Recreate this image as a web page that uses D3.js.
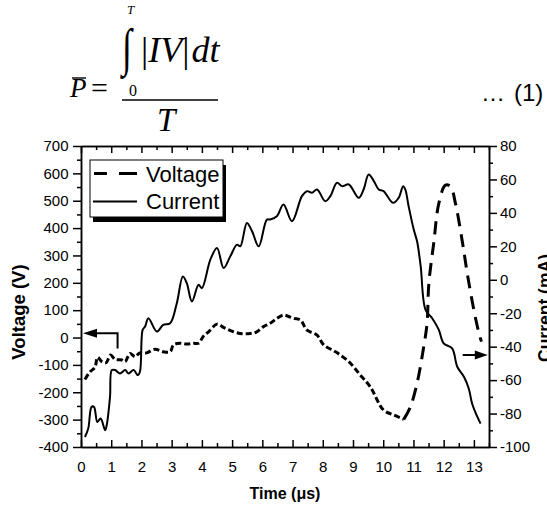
<!DOCTYPE html>
<html>
<head>
<meta charset="utf-8">
<script src="https://cdnjs.cloudflare.com/ajax/libs/d3/7.8.5/d3.min.js"></script>
<style>
body { margin: 0; background: #fff; }
svg { display: block; }
text { font-family: "Liberation Sans", Arial, sans-serif; fill: #000; }
</style>
</head>
<body>
<svg id="chart" width="547" height="505"></svg>
<script>
// tick values
var timeTicks = d3.range(0, 14, 1);
var voltTicks = d3.range(-400, 701, 100);
var currTicks = d3.range(-100, 81, 20);

// series names (legend)
var seriesNames = ['Voltage', 'Current'];

// voltage trace (us, V)
var voltageT = [0.13,0.30,0.46,0.55,0.69,0.83,0.98,1.13,1.35,1.46,1.62,1.79,1.95,2.17,2.45,2.72,2.95,3.06,3.28,3.50,3.72,3.89,4.05,4.22,4.50,4.75,5.05,5.35,5.60,5.80,6.04,6.26,6.48,6.70,6.85,7.05,7.26,7.48,7.81,8.03,8.42,8.86,9.24,9.57,10.01,10.35,10.68,10.90,11.12,11.34,11.45,11.51,11.67,11.84,12.06,12.23,12.39,12.61,12.78,13.00,13.17,13.25];
var voltageV = [-153,-125,-109,-72,-88,-92,-64,-80,-82,-88,-58,-70,-56,-56,-43,-52,-52,-27,-21,-24,-21,-21,5,21,49,35,21,14,15,20,40,52,70,82,78,70,64,27,9,-27,-52,-88,-137,-180,-265,-283,-299,-253,-167,-34,52,198,344,490,557,551,490,356,235,100,15,-15];

// current trace (us, mA)
var currentT = [0.13,0.24,0.35,0.43,0.54,0.65,0.80,0.85,0.96,1.02,1.13,1.29,1.46,1.57,1.74,1.88,1.95,2.04,2.12,2.23,2.51,2.72,2.95,3.17,3.37,3.50,3.67,3.89,4.00,4.28,4.50,4.72,4.94,5.16,5.27,5.49,5.66,5.88,6.15,6.26,6.48,6.70,6.98,7.31,7.48,7.64,7.81,8.08,8.25,8.47,8.64,8.86,9.19,9.35,9.52,9.69,9.85,10.01,10.33,10.51,10.66,10.73,10.84,11.01,11.12,11.24,11.40,11.62,11.84,12.00,12.28,12.45,12.67,12.83,12.94,13.09,13.22];
var currentI = [-94,-89,-76,-76,-85,-83,-90,-87,-70,-54,-54,-56,-54,-56,-54,-57,-55,-30,-28,-23,-31,-27,-26,-14,2,-2,-13,-3,-5,12,19,7,14,21,20,34,29,20,36,36,38,45,35,50,53,52,54,47,50,58,56,57,49,54,63,59,54,53,46,49,56,54,44,30,23,8,-18,-23,-30,-38,-41,-52,-58,-65,-74,-81,-86];

// arrows telling which axis each trace belongs to
var voltArrow = {t0: 1.21, v0: -40, v1: 16, t1: 0};
var currArrow = {t0: 12.63, t1: 13.46, c: -45};

var svg = d3.select('#chart');

var x = d3.scaleLinear().domain([0, 13.5]).range([81, 489]);
var yV = d3.scaleLinear().domain([-400, 700]).range([447, 146]);
var yI = d3.scaleLinear().domain([-100, 80]).range([447, 146]);

var noLabel = function () { return ''; };
var plain = function (d) { return String(d); };

function styleAxis(g) {
    g.selectAll('path, line').attr('stroke', '#000').attr('stroke-width', 1.5);
    g.selectAll('text').attr('font-size', 15).attr('fill', '#000')
        .attr('font-family', '"Liberation Sans", Arial, sans-serif');
}

// ----- equation above the chart -----
var serif = '"Liberation Serif", "Times New Roman", serif';
var eq = svg.append('g');
eq.append('text').attr('x', 70).attr('y', 97).attr('font-size', 27).attr('font-style', 'italic')
    .style('font-family', serif).text('P');
eq.append('line').attr('x1', 72).attr('x2', 86).attr('y1', 78).attr('y2', 78)
    .attr('stroke', '#000').attr('stroke-width', 1.4);
eq.append('text').attr('x', 91).attr('y', 98).attr('font-size', 30)
    .style('font-family', serif).text('=');
eq.append('text').attr('transform', 'translate(122,65) scale(1,1.45)').attr('font-size', 36)
    .style('font-family', serif).text('\u222B');
eq.append('text').attr('x', 127).attr('y', 14).attr('font-size', 13).attr('font-style', 'italic')
    .style('font-family', serif).text('T');
eq.append('text').attr('x', 129).attr('y', 96).attr('font-size', 16)
    .style('font-family', serif).text('0');
var num = eq.append('text').attr('x', 141).attr('y', 62).attr('font-size', 36)
    .style('font-family', serif);
num.append('tspan').text('|');
num.append('tspan').attr('font-style', 'italic').text('IV');
num.append('tspan').text('|');
num.append('tspan').attr('dx', 2).attr('font-style', 'italic').text('dt');
eq.append('line').attr('x1', 122).attr('x2', 218).attr('y1', 100).attr('y2', 100)
    .attr('stroke', '#000').attr('stroke-width', 1.3);
eq.append('text').attr('x', 157).attr('y', 131).attr('font-size', 33).attr('font-style', 'italic')
    .style('font-family', serif).text('T');
svg.append('text').attr('x', 481).attr('y', 101).attr('font-size', 24).text('\u2026');
svg.append('text').attr('x', 514).attr('y', 101).attr('font-size', 24).text('(1)');

// ----- axes -----
var bottomAxis = svg.append('g').attr('transform', 'translate(0,447)')
    .call(d3.axisBottom(x).tickValues(timeTicks).tickSizeInner(-7).tickSizeOuter(0).tickPadding(14).tickFormat(plain));
styleAxis(bottomAxis);
var bottomMinor = svg.append('g').attr('transform', 'translate(0,447)')
    .call(d3.axisBottom(x).tickValues(d3.range(0.5, 13.6, 1)).tickSizeInner(-4).tickSizeOuter(0).tickFormat(noLabel));
styleAxis(bottomMinor);

var topAxis = svg.append('g').attr('transform', 'translate(0,146)')
    .call(d3.axisTop(x).tickValues(timeTicks).tickSizeInner(-7).tickSizeOuter(0).tickFormat(noLabel));
styleAxis(topAxis);
var topMinor = svg.append('g').attr('transform', 'translate(0,146)')
    .call(d3.axisTop(x).tickValues(d3.range(0.5, 13.6, 1)).tickSizeInner(-4).tickSizeOuter(0).tickFormat(noLabel));
styleAxis(topMinor);

var leftAxis = svg.append('g').attr('transform', 'translate(81,0)')
    .call(d3.axisLeft(yV).tickValues(voltTicks).tickSizeInner(8).tickSizeOuter(0).tickPadding(4.5).tickFormat(plain));
styleAxis(leftAxis);
var leftMinor = svg.append('g').attr('transform', 'translate(81,0)')
    .call(d3.axisLeft(yV).tickValues(d3.range(-350, 700, 100)).tickSizeInner(4).tickSizeOuter(0).tickFormat(noLabel));
styleAxis(leftMinor);

var rightAxis = svg.append('g').attr('transform', 'translate(489,0)')
    .call(d3.axisRight(yI).tickValues(currTicks).tickSizeInner(8).tickSizeOuter(0).tickPadding(3).tickFormat(plain));
styleAxis(rightAxis);
var rightMinor = svg.append('g').attr('transform', 'translate(489,0)')
    .call(d3.axisRight(yI).tickValues(d3.range(-90, 80, 20)).tickSizeInner(4).tickSizeOuter(0).tickFormat(noLabel));
styleAxis(rightMinor);

// axis titles
svg.append('text').attr('x', 285).attr('y', 499).attr('text-anchor', 'middle')
    .attr('font-size', 16).attr('font-weight', 'bold').text('Time (\u03BCs)');
svg.append('text').attr('transform', 'translate(25,312) rotate(-90)').attr('text-anchor', 'middle')
    .attr('font-size', 18.5).attr('font-weight', 'bold').text('Voltage (V)');
// the figure is cropped, so this title sits partly outside the frame
svg.append('text').attr('transform', 'translate(551,308) rotate(-90)').attr('text-anchor', 'middle')
    .attr('font-size', 17.5).attr('font-weight', 'bold').text('Current (mA)');

// ----- traces -----
var voltPts = voltageT.map(function (t, i) { return {t: t, v: voltageV[i]}; });
var currPts = currentT.map(function (t, i) { return {t: t, v: currentI[i]}; });

var voltLine = d3.line().curve(d3.curveCatmullRom.alpha(0.5))
    .x(function (d) { return x(d.t); }).y(function (d) { return yV(d.v); });
var currLine = d3.line().curve(d3.curveCatmullRom.alpha(0.5))
    .x(function (d) { return x(d.t); }).y(function (d) { return yI(d.v); });

// slow part of the voltage comes out as short dashes, the fast swing as long ones
svg.append('path').datum(voltPts.filter(function (d) { return d.t <= 10.68; }))
    .attr('d', voltLine).attr('fill', 'none').attr('stroke', '#000')
    .attr('stroke-width', 3).attr('stroke-dasharray', '6,3');
svg.append('path').datum(voltPts.filter(function (d) { return d.t >= 10.68; }))
    .attr('d', voltLine).attr('fill', 'none').attr('stroke', '#000')
    .attr('stroke-width', 3).attr('stroke-dasharray', '13,8');

svg.append('path').datum(currPts)
    .attr('d', currLine).attr('fill', 'none').attr('stroke', '#000').attr('stroke-width', 2);

// ----- arrows -----
var ar = svg.append('g');
ar.append('path')
    .attr('d', 'M' + x(voltArrow.t0) + ',' + yV(voltArrow.v0) + 'V' + yV(voltArrow.v1) + 'H' + (x(voltArrow.t1) + 12))
    .attr('fill', 'none').attr('stroke', '#000').attr('stroke-width', 2);
ar.append('path')
    .attr('d', 'M' + (x(voltArrow.t1) + 2) + ',' + yV(voltArrow.v1) + 'l14,-4.5v9z').attr('fill', '#000');
ar.append('path')
    .attr('d', 'M' + x(currArrow.t0) + ',' + yI(currArrow.c) + 'H' + (x(currArrow.t1) - 10))
    .attr('fill', 'none').attr('stroke', '#000').attr('stroke-width', 2);
ar.append('path')
    .attr('d', 'M' + x(currArrow.t1) + ',' + yI(currArrow.c) + 'l-13,-4.5v9z').attr('fill', '#000');

// ----- legend -----
var leg = svg.append('g');
leg.append('rect').attr('x', 93).attr('y', 165).attr('width', 133).attr('height', 57).attr('fill', '#000');
leg.append('rect').attr('x', 90).attr('y', 160).attr('width', 133).attr('height', 57)
    .attr('fill', '#fff').attr('stroke', '#000').attr('stroke-width', 1);
leg.append('line').attr('x1', 94).attr('x2', 137).attr('y1', 173.5).attr('y2', 173.5)
    .attr('stroke', '#000').attr('stroke-width', 3).attr('stroke-dasharray', '13,12,18');
leg.append('line').attr('x1', 93).attr('x2', 137).attr('y1', 201.5).attr('y2', 201.5)
    .attr('stroke', '#000').attr('stroke-width', 2);
leg.selectAll('text.lg').data(seriesNames).enter().append('text').attr('class', 'lg')
    .attr('x', 146).attr('y', function (d, i) { return 181.5 + i * 27; })
    .attr('font-size', 22).text(function (d) { return d; });
</script>
</body>
</html>
